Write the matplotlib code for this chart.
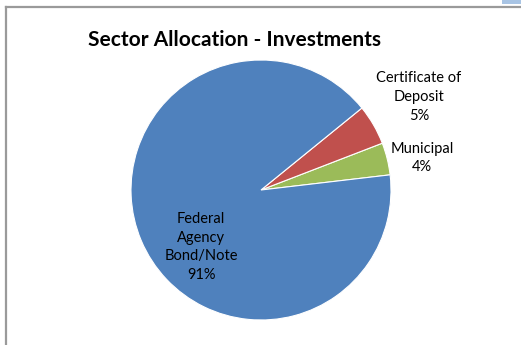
import matplotlib.pyplot as plt
from matplotlib.patches import Rectangle
from matplotlib.lines import Line2D

sectors = ["Municipal", "Certificate of\nDeposit", "Federal\nAgency\nBond/Note"]
shares = [4, 5, 91]
colors = ["#9BBB59", "#C0504D", "#4F81BD"]

plt.rcParams['font.family'] = ['Lato', 'DejaVu Sans']

W, H = 521, 345
fig = plt.figure(figsize=(W / 100, H / 100), dpi=100)
ax = fig.add_axes([0, 0, 1, 1])

# chart frame (left and top edges only)
fig.add_artist(Line2D([6 / W, 6 / W], [0, 1 - 7 / H], color="#9a9a9a", lw=1.6))
fig.add_artist(Line2D([6 / W, 1], [1 - 7 / H, 1 - 7 / H], color="#9a9a9a", lw=1.6))
fig.add_artist(Rectangle((502 / W, 1 - 4 / H), 19 / W, 4 / H,
                         transform=fig.transFigure, color="#a8c4e4", lw=0))

wedges, _ = ax.pie(shares, colors=colors, startangle=6.7, counterclock=True,
                   center=(261, H - 190), radius=130,
                   wedgeprops=dict(edgecolor="white", linewidth=0.8))

# pie() resets the limits, so fix them to pixel units afterwards
ax.set_xlim(0, W)
ax.set_ylim(0, H)
ax.set_aspect('auto')
ax.axis('off')

ax.text(235, H - 40, "Sector Allocation - Investments", ha="center", va="center",
        fontsize=15, fontweight="bold", color="black")

label_pos = [(422, H - 158), (419, H - 97), (201, H - 247)]
for name, val, (x, y) in zip(sectors, shares, label_pos):
    ax.text(x, y, f"{name}\n{val}%", ha="center", va="center",
            fontsize=10.5, linespacing=1.45, color="black")

fig.savefig("out.png", dpi=100)
